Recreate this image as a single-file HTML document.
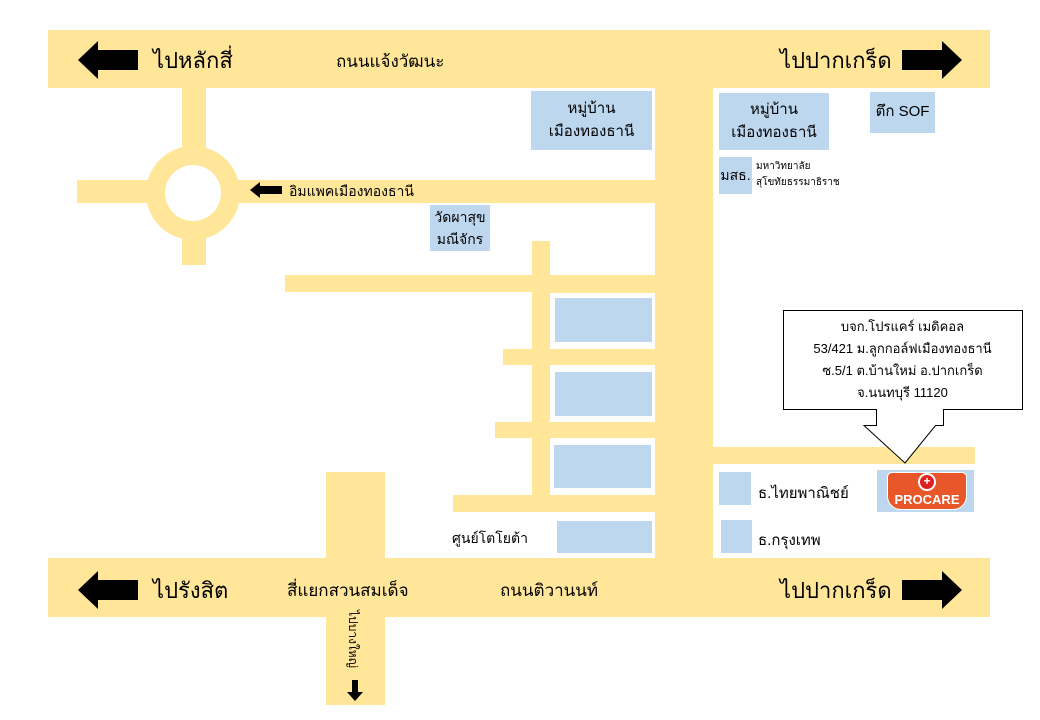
<!DOCTYPE html>
<html><head><meta charset="utf-8"><style>
body{margin:0;width:1040px;height:720px;background:#fff;position:relative;overflow:hidden;font-family:"Liberation Sans","Noto Sans CJK SC",sans-serif;}
.r{position:absolute;background:#ffe699;}
.b{position:absolute;background:#bdd7ee;}
.t{position:absolute;color:#000;white-space:nowrap;}
.c{text-align:center;display:flex;align-items:center;justify-content:center;line-height:1.5;}
</style></head><body>
<div class="r" style="left:48px;top:30px;width:942px;height:58px"></div>
<div class="r" style="left:48px;top:558px;width:942px;height:59px"></div>
<div class="r" style="left:655px;top:88px;width:58px;height:470px"></div>
<div class="r" style="left:182px;top:88px;width:24px;height:177px"></div>
<div class="r" style="left:77px;top:180px;width:578px;height:23px"></div>
<div style="position:absolute;left:146px;top:146px;width:94px;height:94px;border-radius:50%;background:#ffe699"></div>
<div style="position:absolute;left:165px;top:165px;width:56px;height:56px;border-radius:50%;background:#fff"></div>
<div class="r" style="left:285px;top:275px;width:370px;height:17px"></div>
<div class="r" style="left:532px;top:241px;width:18px;height:271px"></div>
<div class="r" style="left:550px;top:292px;width:105px;height:264px"></div>
<div style="position:absolute;left:550px;top:293px;width:105px;height:265px;background:#fff"></div>
<div class="r" style="left:503px;top:349px;width:152px;height:16px"></div>
<div class="r" style="left:495px;top:422px;width:160px;height:16px"></div>
<div class="r" style="left:453px;top:495px;width:202px;height:17px"></div>
<div class="r" style="left:713px;top:447px;width:262px;height:17px"></div>
<div class="r" style="left:326px;top:472px;width:59px;height:233px"></div>
<div class="b" style="left:555px;top:298px;width:97px;height:44px"></div>
<div class="b" style="left:555px;top:372px;width:97px;height:44px"></div>
<div class="b" style="left:554px;top:445px;width:97px;height:43px"></div>
<div class="b" style="left:557px;top:521px;width:95px;height:32px"></div>
<div class="b t c" style="left:531px;top:91px;width:121px;height:59px;font-size:15px">หมู่บ้าน<br>เมืองทองธานี</div>
<div class="b t c" style="left:719px;top:93px;width:110px;height:57px;font-size:15px">หมู่บ้าน<br>เมืองทองธานี</div>
<div class="b t c" style="left:870px;top:92px;width:65px;height:41px;font-size:15px">ตึก SOF</div>
<div class="b t c" style="left:719px;top:157px;width:33px;height:37px;font-size:14px">มสธ.</div>
<div class="t" style="left:756px;top:159px;font-size:10px;line-height:16px">มหาวิทยาลัย<br>สุโขทัยธรรมาธิราช</div>
<div class="b t c" style="left:430px;top:205px;width:60px;height:46px;font-size:14px;line-height:1.6">วัดผาสุข<br>มณีจักร</div>
<div class="b" style="left:719px;top:472px;width:32px;height:33px"></div>
<div class="b" style="left:721px;top:520px;width:31px;height:33px"></div>
<div class="t" style="left:758px;top:481px;font-size:15px">ธ.ไทยพาณิชย์</div>
<div class="t" style="left:758px;top:528px;font-size:15px">ธ.กรุงเทพ</div>
<div class="t" style="left:452px;top:528px;font-size:14px">ศูนย์โตโยต้า</div>
<div class="b" style="left:877px;top:470px;width:97px;height:42px"></div>
<div style="position:absolute;left:887px;top:472px;width:80px;height:38px;background:#e8572a;border-radius:5px 5px 14px 14px;border:1px solid #fff;box-sizing:border-box"></div>
<div style="position:absolute;left:918px;top:473px;width:18px;height:18px;border-radius:50%;background:#e02020;border:2px solid #fff;box-sizing:border-box;color:#fff;font-size:12px;line-height:13px;text-align:center;font-weight:bold">+</div>
<div class="t" style="left:887px;top:492px;width:80px;text-align:center;color:#fff;font-weight:bold;font-size:13px">PROCARE</div>
<svg style="position:absolute;left:0;top:0" width="1040" height="720">
<path d="M783.5 310.5 H1022.5 V409.5 H943.5 V425.5 H935.5 L905 463 L864 425.5 H876.5 V409.5 H783.5 Z" fill="#fff" stroke="#000" stroke-width="1"/>
<polygon points="78,60 98,41 98,50 138,50 138,70 98,70 98,79" fill="#000"/>
<polygon points="962,60 942,41 942,50 902,50 902,70 942,70 942,79" fill="#000"/>
<polygon points="78,590 98,571 98,580 138,580 138,600 98,600 98,609" fill="#000"/>
<polygon points="962,590 942,571 942,580 902,580 902,600 942,600 942,609" fill="#000"/>
<polygon points="250,190 260,182 260,186 282,186 282,194 260,194 260,198" fill="#000"/>
<polygon points="355,701 347,692 352,692 352,680 358,680 358,692 363,692" fill="#000"/>
</svg>
<div class="t c" style="left:783px;top:311px;width:239px;height:98px;font-size:13px;line-height:22px">บจก.โปรแคร์ เมดิคอล<br>53/421 ม.ลูกกอล์ฟเมืองทองธานี<br>ซ.5/1 ต.บ้านใหม่ อ.ปากเกร็ด<br>จ.นนทบุรี 11120</div>
<div class="t" style="left:153px;top:43px;font-size:22px">ไปหลักสี่</div>
<div class="t" style="left:336px;top:48px;font-size:17px">ถนนแจ้งวัฒนะ</div>
<div class="t" style="left:780px;top:43px;font-size:22px">ไปปากเกร็ด</div>
<div class="t" style="left:153px;top:573px;font-size:22px">ไปรังสิต</div>
<div class="t" style="left:287px;top:577px;font-size:17px">สี่แยกสวนสมเด็จ</div>
<div class="t" style="left:500px;top:577px;font-size:17px">ถนนติวานนท์</div>
<div class="t" style="left:780px;top:573px;font-size:22px">ไปปากเกร็ด</div>
<div class="t" style="left:289px;top:181px;font-size:14px">อิมแพคเมืองทองธานี</div>
<div class="t" style="left:318px;top:632px;font-size:12px;transform:rotate(90deg);transform-origin:center;width:70px;height:14px;line-height:14px;text-align:center">ไปบางใหญ่</div>
</body></html>
